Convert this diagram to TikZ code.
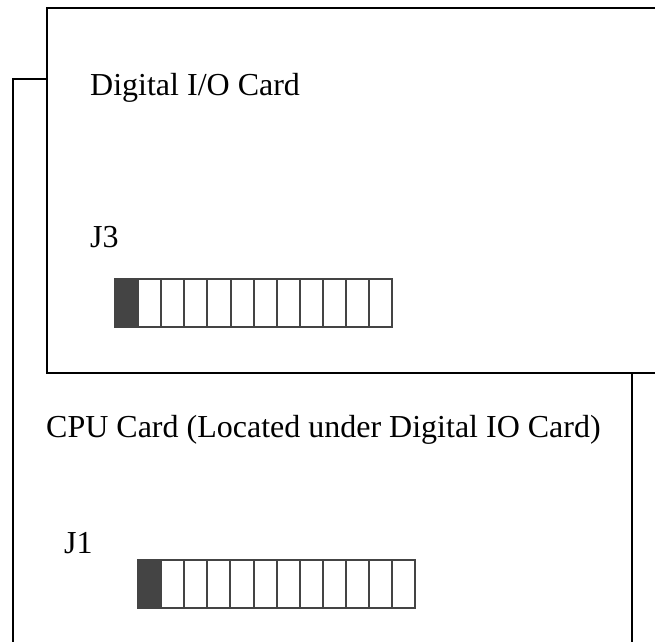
\documentclass[tikz,border=0pt]{standalone}
\usepackage{fontspec}
\setmainfont{Liberation Serif}
\usetikzlibrary{positioning}
\definecolor{PinGray}{HTML}{444444}
\tikzset{%
  card/.style={%
    rectangle,%
    draw=black,%
    line width=2.7pt,%
    fill=white,%
    anchor=north west,%
    inner sep=0pt,%
    outer sep=0pt%
  },
  pin_cell/.style={%
    rectangle,%
    draw=PinGray,%
    line width=2pt,%
    minimum width=23.1pt,%
    minimum height=48pt,%
    inner sep=0pt,%
    outer sep=0pt%
  },
  key_cell/.style={%
    pin_cell,%
    fill=PinGray,%
    anchor=north west%
  },
  card_text/.style={%
    font={\fontsize{32}{38}\selectfont},%
    inner sep=0pt,%
    anchor=base west%
  },
}
\begin{document}
\begin{tikzpicture}[x=1pt, y=-1pt]
    \useasboundingbox (0,0) rectangle (655,641);
    \clip (0,0) rectangle (655,641);

    % cards
    \node [card, minimum width=619pt, minimum height=621pt] (cpu_card) at (13,79) {};
    \node [card, minimum width=653pt, minimum height=365pt] (io_card) at (47,8) {};

    % labels
    \node [card_text] (io_title) at (90,95) {Digital I/O Card};
    \node [card_text] (j3_label) at (90,247) {J3};
    \node [card_text] (cpu_title) at (46,437) {CPU Card (Located under Digital IO Card)};
    \node [card_text] (j1_label) at (64,553) {J1};

    % connector J3
    \node [key_cell] (J3_0) at (115,279) {};
    \foreach \i [remember=\i as \prev (initially 0)] in {1,...,11}
      \node [pin_cell, right=0pt of J3_\prev] (J3_\i) {};

    % connector J1
    \node [key_cell] (J1_0) at (138,560) {};
    \foreach \i [remember=\i as \prev (initially 0)] in {1,...,11}
      \node [pin_cell, right=0pt of J1_\prev] (J1_\i) {};
\end{tikzpicture}
\end{document}
